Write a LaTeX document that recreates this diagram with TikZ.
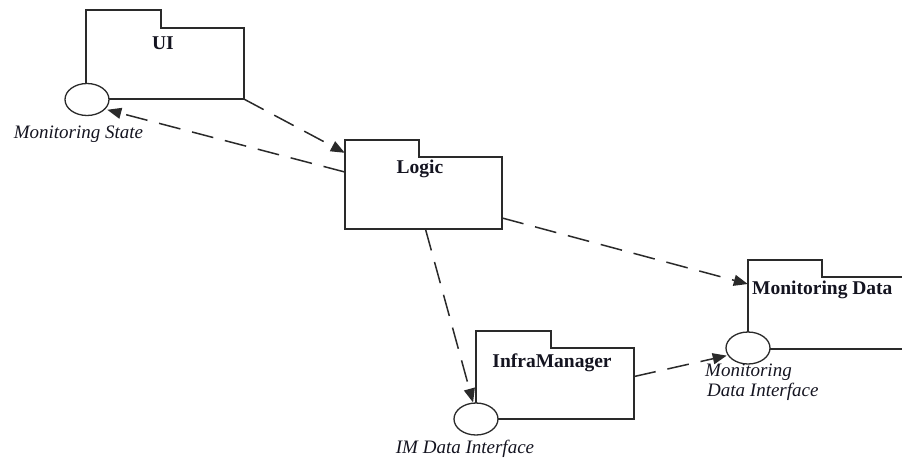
\documentclass[tikz,border=0pt]{standalone}
\usepackage{fontspec}
\setmainfont{Liberation Serif}
\usetikzlibrary{shapes.geometric,arrows.meta,calc}
\definecolor{ink}{HTML}{2A2A2A}
\definecolor{txt}{HTML}{141420}
\tikzset{
  pkgbody/.style={fill=white, inner sep=0pt},
  pkgline/.style={draw=ink, line width=1.7pt, line join=miter},
  iface/.style={ellipse, draw=ink, line width=1.3pt, fill=white, minimum width=44pt, minimum height=32pt, inner sep=0pt},
  pkgname/.style={font=\fontsize{19.5}{21}\selectfont\bfseries, text=txt, inner sep=0pt},
  ifname/.style={font=\fontsize{19}{20}\selectfont\itshape, text=txt, inner sep=0pt},
  dep/.style={draw=ink, line width=1.5pt, dash pattern=on 22pt off 12pt, -{Triangle[length=14pt,width=11pt]}},
}
% folder outline of a package: body plus tab on its upper left
\newcommand\pkgoutline[3]{%
  \draw[pkgline] (#1.south west) -- ($(#1.north west)+(0,-#3)$) -- ($(#1.north west)+(#2,-#3)$)
    -- ($(#1.north west)+(#2,0)$) -- (#1.north east) -- (#1.south east) -- cycle;}
\begin{document}
\begin{tikzpicture}[x=1pt,y=-1pt]
\useasboundingbox (0,0) rectangle (902,459);
\clip (0,0) rectangle (902,459);

% package bodies
\node[pkgbody, minimum width=158pt, minimum height=71pt] (ui) at (165,63.5) {};
\node[pkgbody, minimum width=157pt, minimum height=72pt] (logic) at (423.5,193) {};
\node[pkgbody, minimum width=232pt, minimum height=72pt] (md) at (864,313) {};
\node[pkgbody, minimum width=158pt, minimum height=71pt] (im) at (555,383.5) {};

% package outlines
\pkgoutline{ui}{75}{18}
\pkgoutline{logic}{74}{17}
\pkgoutline{md}{74}{17}
\pkgoutline{im}{75}{17}

% package names
\node[pkgname] (uiname) at (163,43) {UI};
\node[pkgname] (logicname) at (420,169) {Logic};
\node[pkgname, anchor=west] (mdname) at (752,290) {Monitoring Data};
\node[pkgname] (imname) at (552,363) {InfraManager};

% dependencies
\coordinate (logicin) at ($(logic.north west)+(0,-4)$);
\coordinate (logicout) at ($(logic.west)+(0,-21)$);
\coordinate (logicright) at ($(logic.east)+(0,25)$);
\coordinate (logicbottom) at ($(logic.south)+(2,0)$);
\coordinate (mdin) at ($(md.west)+(0,-29)$);
\coordinate (imright) at ($(im.east)+(0,-7)$);

% provided interfaces
\node[iface] (uiif) at (87,99.5) {};
\node[iface] (mdif) at (748,348) {};
\node[iface] (imif) at (476,419) {};

\draw[dep] (ui.south east) -- (logicin);
\draw[dep, shorten >=2pt] (logicout) -- (uiif.-28);
\draw[dep] (logicright) -- (mdin);
\draw[dep] (logicbottom) -- (imif.100);
\draw[dep, shorten >=1pt] (imright) -- (mdif.200);

% interface names
\node[ifname] (uiifname) at (78.5,134) {Monitoring State};
\node[ifname, align=left, anchor=north west] (mdifname) at (705,364) {\hspace*{0pt}Monitoring\\\hspace*{2pt}Data Interface};
\node[ifname] (imifname) at (465,449) {IM Data Interface};
\end{tikzpicture}
\end{document}
